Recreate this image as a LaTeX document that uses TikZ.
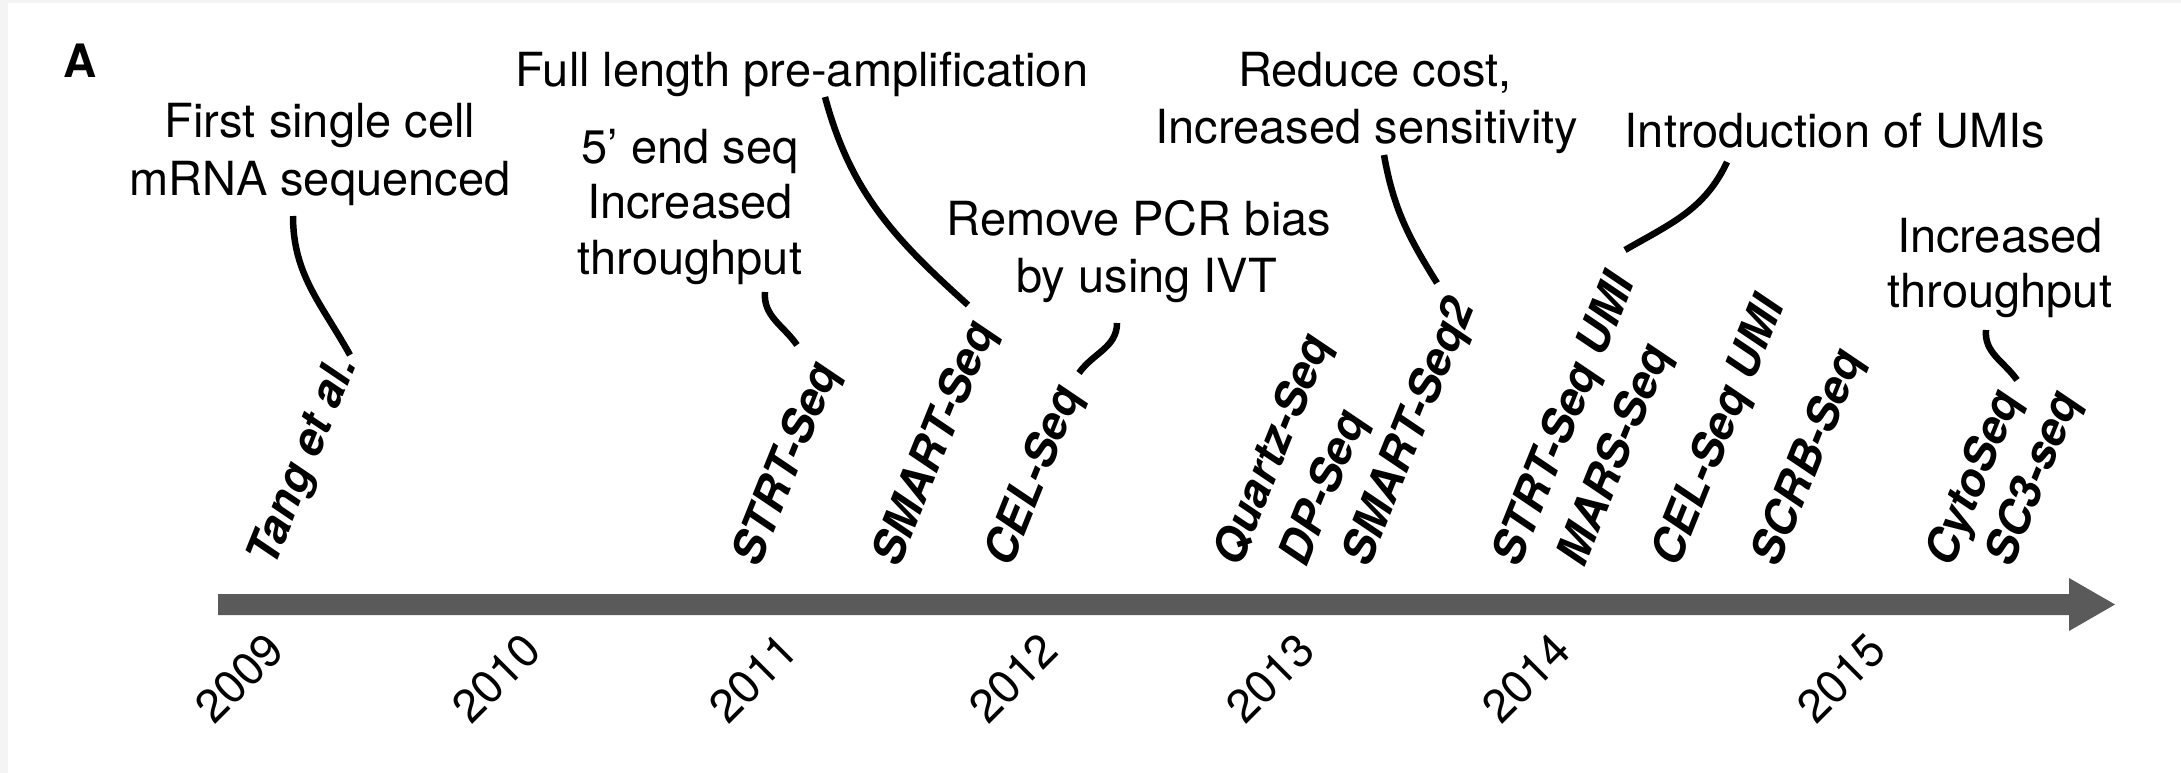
\documentclass[tikz,border=0pt]{standalone}
\usepackage{fontspec}
\setmainfont{TeX Gyre Heros}
\definecolor{barcol}{HTML}{5A5A5A}
\definecolor{edgecol}{HTML}{F4F4F4}
\tikzset{
  note/.style={font=\fontsize{47}{56}\selectfont, inner sep=0pt, anchor=base},
  year/.style={font=\fontsize{46}{50}\selectfont, rotate=45, inner sep=0pt, anchor=center},
  method/.style={font=\fontsize{45.5}{50}\selectfont\bfseries\itshape, rotate=68, anchor=base west, inner sep=0pt},
  conn/.style={line width=6.5pt, black, line cap=butt},
}
\begin{document}
\begin{tikzpicture}[x=1pt, y=-1pt]
\useasboundingbox (0,0) rectangle (2181,773);
\fill[white] (0,0) rectangle (2181,773);
\fill[edgecol] (0,0) rectangle (8,773);
\fill[edgecol] (0,0) rectangle (2181,3);

% panel letter
\node[font=\fontsize{46}{50}\selectfont\bfseries, inner sep=0pt, anchor=base] (panel) at (80,78) {A};

% timeline arrow
\fill[barcol] (218,594) -- (2069,594) -- (2069,578) -- (2115,604.5) -- (2069,631) -- (2069,615) -- (218,615) -- cycle;

% years
\node[year] (y2009) at (239,678) {2009};
\node[year] (y2010) at (496,678) {2010};
\node[year] (y2011) at (753,678) {2011};
\node[year] (y2012) at (1013,678) {2012};
\node[year] (y2013) at (1270,678) {2013};
\node[year] (y2014) at (1526,678) {2014};
\node[year] (y2015) at (1841,678) {2015};

% methods
\node[method] (tang)   at (274,569) {Tang et al.};
\node[method] (strt)   at (759,569) {STRT-Seq};
\node[method] (smart)  at (899,569) {SMART-Seq};
\node[method] (cel)    at (1011,569) {CEL-Seq};
\node[method] (quartz) at (1240,569) {Quartz-Seq};
\node[method] (dp)     at (1306,569) {DP-Seq};
\node[method] (smart2) at (1369,569) {SMART-Seq2};
\node[method] (strtumi) at (1519,569) {STRT-Seq UMI};
\node[method] (mars)   at (1584,569) {MARS-Seq};
\node[method] (celumi) at (1678,569) {CEL-Seq UMI};
\node[method] (scrb)   at (1778,569) {SCRB-Seq};
\node[method] (cyto)   at (1952,569) {CytoSeq};
\node[method] (sc3)    at (2012,569) {SC3-seq};

% milestone notes
\node[note] (first1) at (320,138) {First single cell};
\node[note] (first2) at (320,195) {mRNA sequenced};
\node[note] (full)   at (802,87) {Full length pre-amplification};
\node[note] (five1)  at (690,163) {5’ end seq};
\node[note] (five2)  at (690,218) {Increased};
\node[note] (five3)  at (690,274) {throughput};
\node[note] (ivt1)   at (1139,235) {Remove PCR bias};
\node[note] (ivt2)   at (1147,292) {by using IVT};
\node[note] (cost1)  at (1375,87) {Reduce cost,};
\node[note] (cost2)  at (1367,143) {Increased sensitivity};
\node[note] (umi)    at (1835,147) {Introduction of UMIs};
\node[note] (thr1)   at (2000,252) {Increased};
\node[note] (thr2)   at (2000,307) {throughput};

% connector ends
\coordinate (c1a) at (293,216);  \coordinate (c1b) at (350,355);
\coordinate (c2a) at (765,292);  \coordinate (c2b) at (797,345);
\coordinate (c3a) at (825,97);   \coordinate (c3b) at (968,305);
\coordinate (c4a) at (1117,323); \coordinate (c4b) at (1079,373);
\coordinate (c5a) at (1384,155); \coordinate (c5b) at (1437,283);
\coordinate (c6a) at (1727,162); \coordinate (c6b) at (1625,250);
\coordinate (c7a) at (1986,330); \coordinate (c7b) at (2017,380);

% connectors
\draw[conn] (c1a) to[out=-90, in=119] (c1b);
\draw[conn] (c2a) to[out=-95, in=125] (c2b);
\draw[conn] (c3a) to[out=-75, in=138] (c3b);
\draw[conn] (c4a) to[out=-90, in=55] (c4b);
\draw[conn] (c5a) to[out=-80, in=122] (c5b);
\draw[conn] (c6a) to[out=-115, in=30] (c6b);
\draw[conn] (c7a) to[out=-95, in=125] (c7b);
\end{tikzpicture}
\end{document}
